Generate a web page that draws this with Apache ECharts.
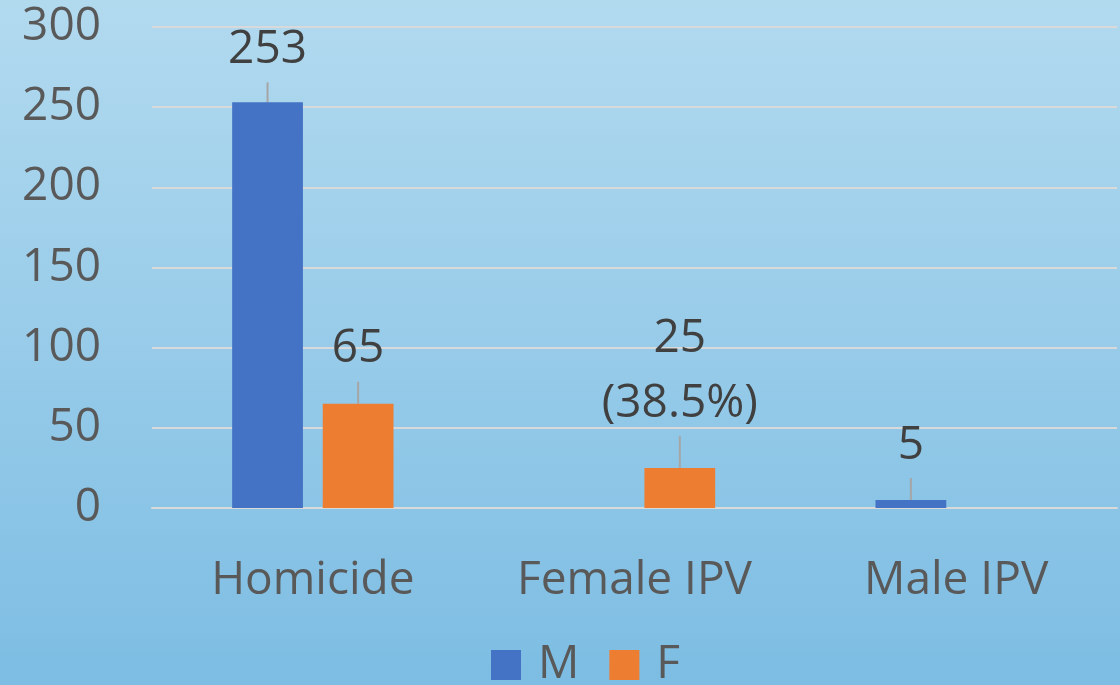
<!DOCTYPE html>
<html>
<head>
<meta charset="utf-8">
<script src="https://cdn.jsdelivr.net/npm/echarts@6/dist/echarts.min.js"></script>
<style>
html,body{margin:0;padding:0;}
#chart{width:1120px;height:685px;}
</style>
</head>
<body>
<div id="chart"></div>
<script>
const categories = ['Homicide', 'Female IPV', 'Male IPV'];
const seriesNames = ['M', 'F'];
const valuesM = [253, null, 5];
const valuesF = [65, 25, null];
const labelsM = ['253', '', '5'];
const labelsF = ['65', '25\n(38.5%)', ''];
const yTicks = [0, 50, 100, 150, 200, 250, 300];

const FONT = '"Open Sans", sans-serif';
const chart = echarts.init(document.getElementById('chart'));

function mkLabel(texts) {
  return {
    show: true,
    position: 'top',
    distance: 2,
    fontFamily: FONT,
    fontSize: 46,
    lineHeight: 65,
    color: '#404040',
    formatter: p => texts[p.dataIndex]
  };
}

chart.setOption({
  backgroundColor: new echarts.graphic.LinearGradient(0, 0, 0, 1, [
    {offset: 0, color: '#b2daef'},
    {offset: 1, color: '#7dbde3'}
  ]),
  animation: false,
  grid: {left: 152, right: 3, top: 27, bottom: 177},
  legend: {
    bottom: -8,
    left: 486,
    itemWidth: 30,
    itemHeight: 30,
    itemGap: 30,
    icon: 'rect',
    textStyle: {fontFamily: FONT, fontSize: 46, color: '#595959', padding: [0, 0, 0, 12]},
    data: seriesNames
  },
  xAxis: {
    type: 'category',
    data: categories,
    axisLine: {show: true, lineStyle: {color: '#d9d9d9', width: 2}},
    axisTick: {show: false},
    axisLabel: {fontFamily: FONT, fontSize: 46, color: '#595959', margin: 50}
  },
  yAxis: {
    type: 'value',
    min: yTicks[0],
    max: yTicks[yTicks.length - 1],
    interval: 50,
    axisLine: {show: false},
    axisTick: {show: false},
    splitLine: {lineStyle: {color: '#d9d9d9', width: 2}},
    axisLabel: {fontFamily: FONT, fontSize: 46, color: '#595959', margin: 51}
  },
  series: [
    {
      name: 'M', type: 'bar', data: valuesM,
      barWidth: '22%', barGap: '28%',
      itemStyle: {color: '#4472c4'},
      label: mkLabel(labelsM),
      labelLayout: p => ({dy: p.dataIndex === 2 ? -20 : -18}),
      labelLine: {show: true, lineStyle: {color: '#a6a6a6', width: 2}}
    },
    {
      name: 'F', type: 'bar', data: valuesF,
      barWidth: '22%', barGap: '28%',
      itemStyle: {color: '#ed7d31'},
      label: mkLabel(labelsF),
      labelLayout: p => ({dy: p.dataIndex === 1 ? -30 : -20}),
      labelLine: {show: true, lineStyle: {color: '#a6a6a6', width: 2}}
    }
  ]
});
</script>
</body>
</html>
